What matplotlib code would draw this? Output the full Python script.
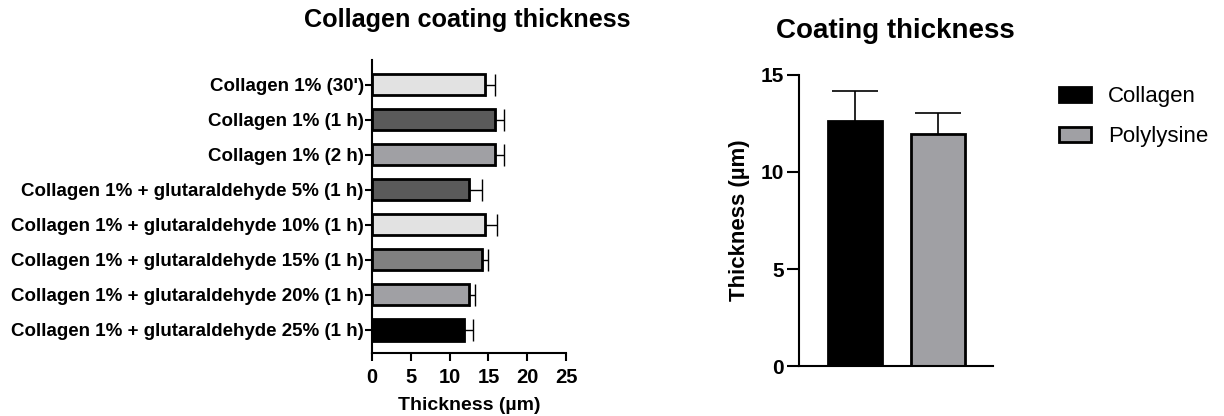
import numpy as np
import matplotlib
matplotlib.use('Agg')
import matplotlib.pyplot as plt

plt.rcParams['font.family'] = ['Liberation Sans', 'DejaVu Sans']

# Left panel data
conditions = ["Collagen 1% (30')", "Collagen 1% (1 h)", "Collagen 1% (2 h)",
              "Collagen 1% + glutaraldehyde 5% (1 h)",
              "Collagen 1% + glutaraldehyde 10% (1 h)",
              "Collagen 1% + glutaraldehyde 15% (1 h)",
              "Collagen 1% + glutaraldehyde 20% (1 h)",
              "Collagen 1% + glutaraldehyde 25% (1 h)"]
thickness = [14.5, 15.9, 15.8, 12.5, 14.5, 14.2, 12.5, 11.9]
thickness_err = [1.3, 1.1, 1.2, 1.7, 1.6, 0.7, 0.7, 1.1]
bar_colors = ['#e2e2e2', '#5a5a5a', '#a0a0a4', '#5a5a5a',
              '#e2e2e2', '#808080', '#a0a0a4', '#000000']

# Right panel data
coatings = ['Collagen', 'Polylysine']
coat_thickness = [12.65, 11.98]
coat_err = [1.5, 1.05]
coat_colors = ['#000000', '#a0a0a4']

fig = plt.figure(figsize=(12.24, 4.16), dpi=100)

# left chart
ax1 = fig.add_axes([0.304, 0.152, 0.1585, 0.704])
ypos = np.arange(len(conditions))
ax1.barh(ypos, thickness, height=0.6, color=bar_colors, edgecolor='black', linewidth=2, zorder=2)
ax1.errorbar(thickness, ypos, xerr=[np.zeros(len(thickness)), thickness_err], fmt='none',
             ecolor='black', elinewidth=1, capsize=8, capthick=1, zorder=1)
ax1.set_yticks(ypos)
ax1.set_yticklabels(conditions, fontsize=13.5, fontweight='bold')
ax1.set_ylim(7.65, -0.71)
ax1.set_xlim(0, 25)
ax1.set_xticks([0, 5, 10, 15, 20, 25])
ax1.tick_params(axis='x', labelsize=14.5, width=1.5, length=6, pad=5)
ax1.tick_params(axis='y', width=1.5, length=5, pad=1)
for lbl in ax1.get_xticklabels():
    lbl.set_fontweight('bold')
ax1.set_xlabel('Thickness (µm)', fontsize=14, fontweight='bold', labelpad=7)
ax1.spines['top'].set_visible(False)
ax1.spines['right'].set_visible(False)
ax1.spines['left'].set_linewidth(1.5)
ax1.spines['bottom'].set_linewidth(1.5)
fig.text(0.3815, 0.952, 'Collagen coating thickness', fontsize=18.2, fontweight='bold',
         ha='center', va='center')

# right chart
ax2 = fig.add_axes([0.653, 0.120, 0.1585, 0.700])
xpos = np.arange(len(coatings))
bars = ax2.bar(xpos, coat_thickness, width=0.65, color=coat_colors, edgecolor='black', linewidth=2,
               zorder=2)
ax2.errorbar(xpos, coat_thickness, yerr=coat_err, fmt='none', ecolor='black',
             elinewidth=1.2, capsize=16.5, capthick=1.2, zorder=1)
ax2.set_xlim(-0.675, 1.66)
ax2.set_ylim(0, 15)
ax2.set_yticks([0, 5, 10, 15])
ax2.set_xticks([])
ax2.tick_params(axis='y', labelsize=15, width=1.5, length=9, pad=2)
for lbl in ax2.get_yticklabels():
    lbl.set_fontweight('bold')
ax2.set_ylabel('Thickness (µm)', fontsize=16, fontweight='bold', labelpad=8)
ax2.spines['top'].set_visible(False)
ax2.spines['right'].set_visible(False)
ax2.spines['left'].set_linewidth(1.5)
ax2.spines['bottom'].set_linewidth(1.5)
fig.text(0.7315, 0.925, 'Coating thickness', fontsize=20, fontweight='bold',
         ha='center', va='center')
fig.legend(bars, coatings, frameon=False, fontsize=16, loc='center left',
           bbox_to_anchor=(0.849, 0.72), handlelength=1.45, handleheight=0.68,
           handletextpad=0.75, labelspacing=0.85)

fig.savefig('out.png', dpi=100)
